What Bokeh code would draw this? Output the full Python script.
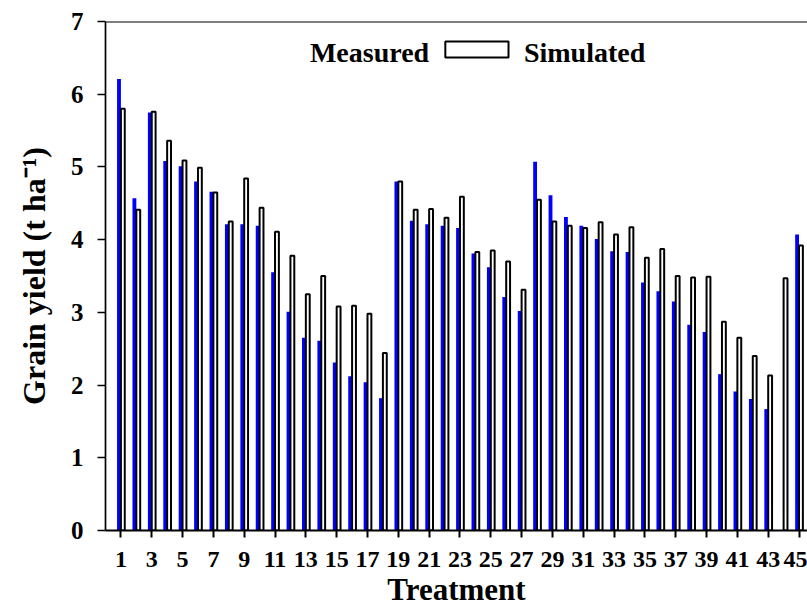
from bokeh.plotting import figure
from bokeh.models import (Range1d, FixedTicker, ColumnDataSource, Label,
                          BoxAnnotation, Span)
from bokeh.transform import dodge
from bokeh.embed import file_html
from bokeh.resources import INLINE

treatments = list(range(1, 46))
measured = [6.21, 4.57, 5.75, 5.08, 5.01, 4.80, 4.66, 4.21, 4.21, 4.19,
            3.55, 3.01, 2.65, 2.61, 2.31, 2.12, 2.04, 1.82,
            4.80, 4.26, 4.21, 4.19, 4.16, 3.81, 3.62, 3.21, 3.02,
            5.07, 4.61, 4.31, 4.19, 4.01, 3.84, 3.83, 3.41, 3.29, 3.15,
            2.83, 2.73, 2.15, 1.91, 1.81, 1.67, 0.0, 4.07]
simulated = [5.80, 4.41, 5.76, 5.36, 5.09, 4.99, 4.65, 4.25, 4.84, 4.44,
             4.11, 3.78, 3.25, 3.50, 3.08, 3.09, 2.98, 2.44,
             4.80, 4.41, 4.42, 4.30, 4.59, 3.83, 3.85, 3.70, 3.31,
             4.55, 4.25, 4.19, 4.16, 4.24, 4.07, 4.17, 3.75, 3.87, 3.50,
             3.48, 3.49, 2.87, 2.65, 2.40, 2.13, 3.47, 3.92]
x_ticks = [1, 3, 5, 7, 9, 11, 13, 15, 17, 19, 21, 23, 25, 27, 29, 31, 33,
           35, 37, 39, 41, 43, 45]
y_ticks = [0, 1, 2, 3, 4, 5, 6, 7]

FONT = "Liberation Serif"

src = ColumnDataSource(dict(t=treatments, m=measured, s=simulated))

p = figure(width=807, height=609, x_range=Range1d(0, 45.55),
           y_range=Range1d(0, 7), output_backend="svg",
           toolbar_location=None, min_border_left=105, min_border_right=0,
           min_border_top=21, min_border_bottom=79)
p.outline_line_color = None
p.grid.visible = False
p.background_fill_color = "white"
p.border_fill_color = "white"

p.vbar(x=dodge("t", -0.125, range=p.x_range), top="m", width=0.25,
       source=src, fill_color="#0000ff", line_color=None)
p.vbar(x=dodge("t", 0.125, range=p.x_range), top="s", width=0.25,
       source=src, fill_color="white", line_color="black", line_width=2)

# axes
xa = p.xaxis[0]
xa.ticker = FixedTicker(ticks=x_ticks)
xa.axis_line_width = 2
xa.major_tick_line_width = 2
xa.major_tick_out = 7
xa.major_tick_in = 0
xa.minor_tick_line_color = None
xa.major_label_text_font = FONT
xa.major_label_text_font_style = "bold"
xa.major_label_text_font_size = "24px"
xa.major_label_text_color = "black"
xa.major_label_standoff = 14
xa.axis_label = "Treatment"
xa.axis_label_text_font = FONT
xa.axis_label_text_font_style = "bold"
xa.axis_label_text_font_size = "31px"
xa.axis_label_text_color = "black"
xa.axis_label_standoff = 2

ya = p.yaxis[0]
ya.ticker = FixedTicker(ticks=y_ticks)
ya.axis_line_width = 1.7
ya.major_tick_line_width = 1.7
ya.major_tick_out = 8
ya.major_tick_in = 0
ya.minor_tick_line_color = None
ya.major_label_text_font = FONT
ya.major_label_text_font_style = "bold"
ya.major_label_text_font_size = "25px"
ya.major_label_text_color = "black"
ya.major_label_standoff = 14
ya.axis_label = "Grain yield (t ha\u207b\u00b9)"
ya.axis_label_text_font = FONT
ya.axis_label_text_font_style = "bold"
ya.axis_label_text_font_size = "32px"
ya.axis_label_text_color = "black"
ya.axis_label_standoff = 16

# top frame line
p.add_layout(Span(location=7, dimension="width", line_color="black",
                  line_width=2))

# legend
p.add_layout(Label(x=21.0, y=6.58, text="Measured", text_align="right",
                   text_baseline="alphabetic", text_font=FONT,
                   text_font_style="bold", text_font_size="28px",
                   text_color="black"))
p.add_layout(BoxAnnotation(left=22.05, right=26.15, bottom=6.505, top=6.725,
                           fill_color="white", fill_alpha=1.0,
                           line_color="black", line_alpha=1.0,
                           line_width=2))
p.add_layout(Label(x=27.15, y=6.58, text="Simulated", text_align="left",
                   text_baseline="alphabetic", text_font=FONT,
                   text_font_style="bold", text_font_size="28px",
                   text_color="black"))

open("out.html", "w").write(file_html(p, INLINE))
